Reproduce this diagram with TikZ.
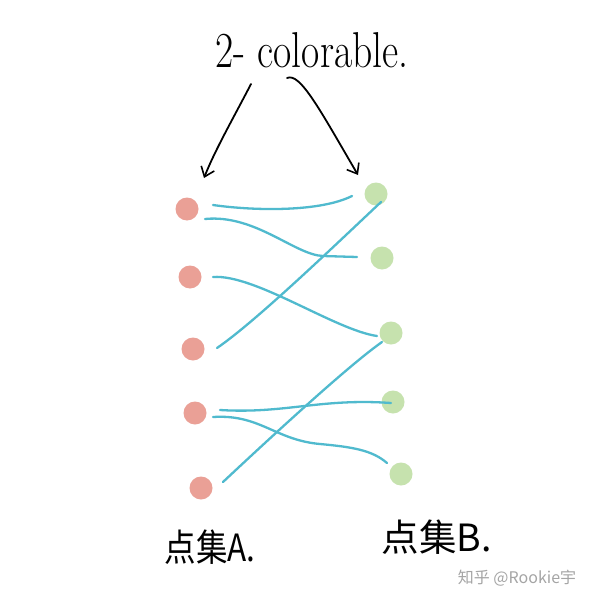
\documentclass[tikz,border=0pt]{standalone}
\usepackage{fontspec}
\newfontfamily\cjk{Noto Sans CJK SC}
\usetikzlibrary{arrows.meta,calc}
\definecolor{red1}{RGB}{234,160,150}
\definecolor{green1}{RGB}{198,226,174}
\definecolor{cyan1}{RGB}{80,186,206}
\definecolor{wm}{RGB}{165,165,165}
\tikzset{
  ptA/.style={circle,fill=red1,minimum size=23pt,inner sep=0pt},
  ptB/.style={circle,fill=green1,minimum size=23pt,inner sep=0pt},
  edge/.style={cyan1,line width=2.3pt,line cap=round,line join=round},
  pen/.style={black,line width=1.8pt,line cap=round,line join=round},
  barb/.style={-{Straight Barb[length=9pt,width=14pt,line width=1.6pt]}}
}
\begin{document}
\begin{tikzpicture}[x=1pt,y=-1pt]
\useasboundingbox[fill=white] (0,0) rectangle (600,607);
% title
\node[font=\fontsize{36}{40}\selectfont] (title) at (312,50) {\scalebox{1.1}[1.4]{2- colorable.}};
% vertices
\node[ptA] (a1) at (187,209) {};
\node[ptA] (a2) at (190,277) {};
\node[ptA] (a3) at (193,349) {};
\node[ptA] (a4) at (195,413) {};
\node[ptA] (a5) at (201,488) {};
\node[ptB] (b1) at (376,194) {};
\node[ptB] (b2) at (382,258) {};
\node[ptB] (b3) at (391,333) {};
\node[ptB] (b4) at (393,402) {};
\node[ptB] (b5) at (401,474) {};
% arrows
\coordinate (l1) at (251,84);
\coordinate (l2) at (204,178);
\coordinate (r1) at (287,78);
\coordinate (r2) at (358,175);
\draw[pen,barb] (l1) .. controls (235,115) and (215,150) .. (l2);
\draw[pen,barb] (r1) .. controls (300,72) and (320,110) .. (r2);
% edges
\draw[edge] ($(a1)+(26,-4)$) .. controls (255,211) and (320,212) .. ($(b1)+(-24,2)$);
\draw[edge] ($(a1)+(18,10)$) .. controls (255,214) and (295,255) .. (323,256) -- ($(b2)+(-25,-1)$);
\draw[edge] ($(a2)+(23,0)$) .. controls (255,274) and (335,330) .. ($(b3)+(-14,3)$);
\draw[edge] ($(a3)+(24,-1)$) .. controls (255,322) and (330,250) .. ($(b1)+(5,8)$);
\draw[edge] ($(a4)+(25,-3)$) .. controls (285,414) and (320,398) .. ($(b4)+(-2,1)$);
\draw[edge] ($(a4)+(18,4)$) .. controls (260,414) and (275,440) .. (320,444) .. controls (352,447) and (372,450) .. ($(b5)+(-14,-11)$);
\draw[edge] ($(a5)+(22,-6)$) .. controls (255,452) and (345,368) .. ($(b3)+(-9,9)$);
% labels
\node[font=\cjk\fontsize{30}{34}\selectfont] (la) at (210,547) {\scalebox{1.05}[1.25]{点集A.}};
\node[font=\cjk\fontsize{30}{34}\selectfont] (lb) at (437,537) {\scalebox{1.25}[1.25]{点集B.}};
\node[font=\cjk\fontsize{16}{18}\selectfont,text=wm] (wmk) at (517,578) {知乎 @Rookie宇};
\end{tikzpicture}
\end{document}
